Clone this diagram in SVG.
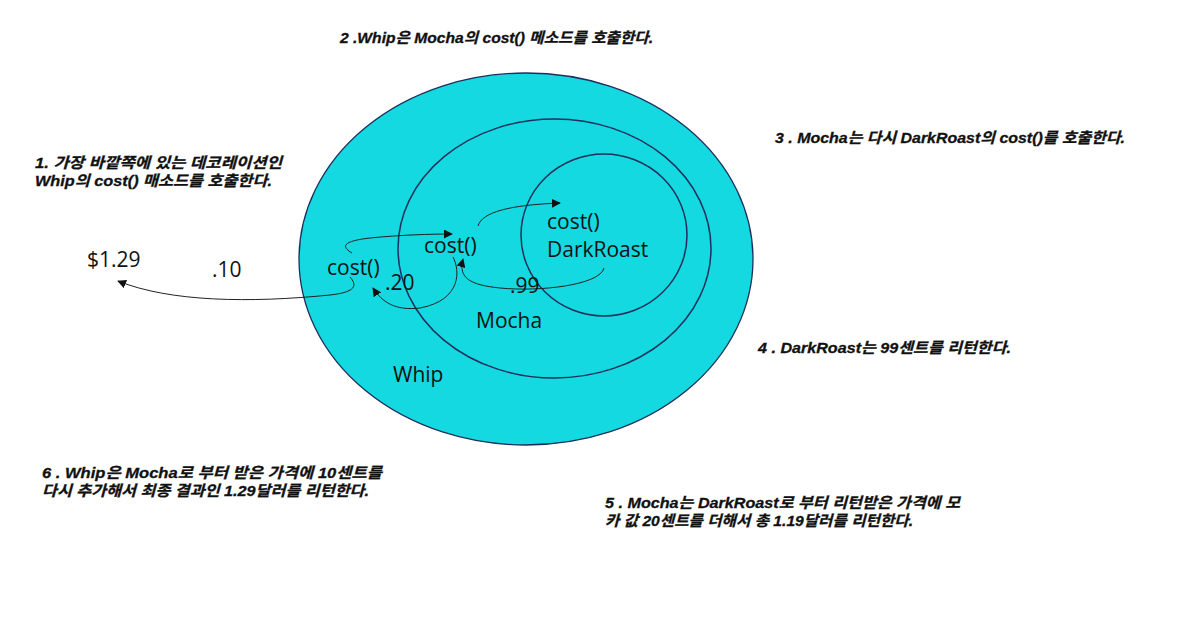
<svg xmlns="http://www.w3.org/2000/svg" width="1197" height="635" viewBox="0 0 1197 635">
<style>
.ell{fill:#14D9E0;stroke:#1F2E5C;stroke-width:1.3}
.ring{fill:none;stroke:#1F2E5C;stroke-width:1.5}
.lbl{font-family:"Open Sans","Noto Sans",sans-serif;font-size:21px;fill:#111}
.note{font-family:"Liberation Sans","Noto Sans CJK KR",sans-serif;font-size:15px;font-weight:bold;font-style:italic;fill:#111;stroke:#111;stroke-width:0.3}
.con{fill:none;stroke:#222;stroke-width:1}
</style>
<defs>
<marker id="ah" viewBox="0 0 10 10" refX="9" refY="5" markerWidth="9" markerHeight="9" markerUnits="userSpaceOnUse" orient="auto">
<path d="M0,0 L10,5 L0,10 Z" fill="#111"/>
</marker>
</defs>
<rect width="1197" height="635" fill="#fff"/>
<g id="whip">
<ellipse class="ell" cx="526" cy="259" rx="227" ry="186"/>
<text class="lbl" x="393" y="382">Whip</text>
<text class="lbl" x="327" y="275">cost()</text>
</g>
<g id="mocha">
<ellipse class="ring" cx="554.5" cy="248.5" rx="156.5" ry="129.5"/>
<text class="lbl" x="476" y="328">Mocha</text>
<text class="lbl" x="424" y="253">cost()</text>
</g>
<g id="darkroast">
<ellipse class="ring" cx="604" cy="235" rx="83" ry="81"/>
<text class="lbl" x="547" y="229">cost()</text>
<text class="lbl" x="547" y="257">DarkRoast</text>
</g>
<g id="connectors">
<path class="con" marker-end="url(#ah)" d="M350,277 C357,285 357,292 330,295 C250,303 170,302 118,281"/>
<path class="con" marker-end="url(#ah)" d="M352,253 C340,246 344,241 370,238 C400,235 430,234 452,234"/>
<path class="con" marker-end="url(#ah)" d="M478,226 C482,212 510,205 560,203"/>
<path class="con" marker-end="url(#ah)" d="M604,268 C600,285 540,292 500,288 C470,285 458,278 463,259"/>
<path class="con" marker-end="url(#ah)" d="M453,257 C460,270 462,300 420,308 C395,311 382,302 373,288"/>
</g>
<g id="values">
<text class="lbl" x="87" y="267">$1.29</text>
<text class="lbl" x="212" y="277">.10</text>
<text class="lbl" x="385" y="290">.20</text>
<text class="lbl" x="510" y="293">.99</text>
</g>
<g id="notes">
<text class="note" x="35" y="168"><tspan x="35" y="168" textLength="247" lengthAdjust="spacingAndGlyphs">1. 가장 바깥쪽에 있는 데코레이션인</tspan><tspan x="35" y="186" textLength="237" lengthAdjust="spacingAndGlyphs">Whip의 cost() 매소드를 호출한다.</tspan></text>
<text class="note" x="340" y="43" textLength="313" lengthAdjust="spacingAndGlyphs">2 .Whip은 Mocha의 cost() 메소드를 호출한다.</text>
<text class="note" x="775" y="143" textLength="350" lengthAdjust="spacingAndGlyphs">3 . Mocha는 다시 DarkRoast의 cost()를 호출한다.</text>
<text class="note" x="758" y="353" textLength="253" lengthAdjust="spacingAndGlyphs">4 . DarkRoast는 99센트를 리턴한다.</text>
<text class="note" x="605" y="508"><tspan x="605" y="508" textLength="355" lengthAdjust="spacingAndGlyphs">5 . Mocha는 DarkRoast로 부터 리턴받은 가격에 모</tspan><tspan x="605" y="526" textLength="308" lengthAdjust="spacingAndGlyphs">카 값 20센트를 더해서 총 1.19달러를 리턴한다.</tspan></text>
<text class="note" x="42" y="478"><tspan x="42" y="478" textLength="340" lengthAdjust="spacingAndGlyphs">6 . Whip은 Mocha로 부터 받은 가격에 10센트를</tspan><tspan x="42" y="496" textLength="327" lengthAdjust="spacingAndGlyphs">다시 추가해서 최종 결과인 1.29달러를 리턴한다.</tspan></text>
</g>
</svg>
